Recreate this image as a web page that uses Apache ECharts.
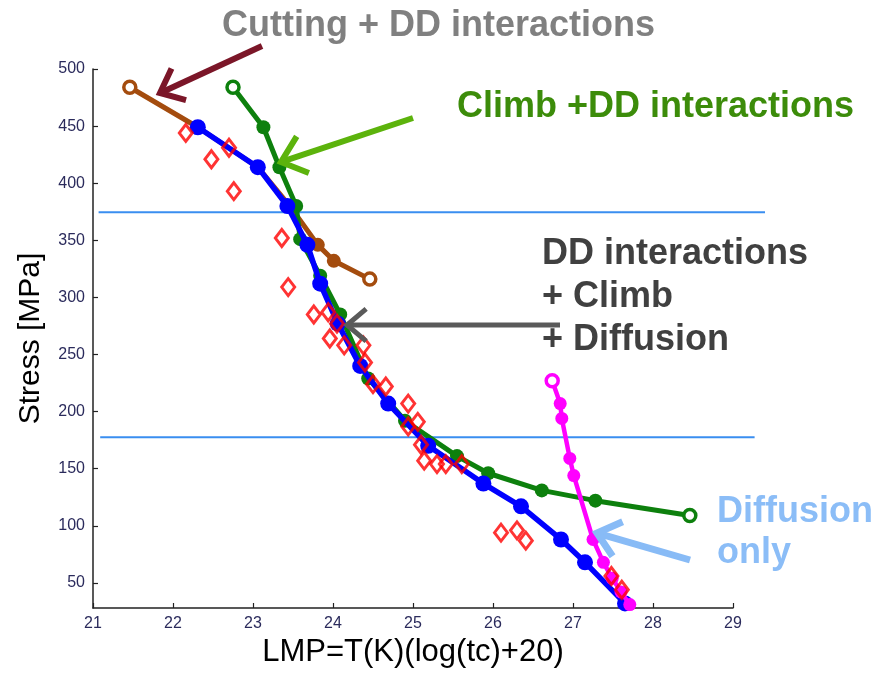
<!DOCTYPE html>
<html><head><meta charset="utf-8">
<script src="https://cdn.jsdelivr.net/npm/echarts@6/dist/echarts.min.js"></script>
<style>html,body{margin:0;padding:0;background:#fff}#c{width:878px;height:673px}</style>
</head><body><div id="c"></div>
<script>
// ---- data ----
const xTickValues = [21, 22, 23, 24, 25, 26, 27, 28, 29];
const yTickValues = [50, 100, 150, 200, 250, 300, 350, 400, 450, 500];

const cuttingX = [21.46, 22.31, 23.06, 23.46, 23.81, 24.01, 24.46];
const cuttingY = [484, 449, 414, 380, 346, 332, 316];

const climbX = [22.75, 23.13, 23.33, 23.54, 23.59, 23.84, 24.09, 24.44, 24.90, 25.55, 25.94, 26.61, 27.28, 28.46];
const climbY = [484, 449, 414, 380, 351, 319, 285, 229, 192, 161, 146, 131, 122, 109];

const allX = [22.31, 23.06, 23.43, 23.68, 23.84, 24.06, 24.34, 24.69, 25.19, 25.88, 26.35, 26.85, 27.15, 27.65];
const allY = [449, 414, 380, 346, 312, 277, 240, 207, 170, 137, 117, 88, 68, 32];

const diffX = [26.74, 26.84, 26.86, 26.96, 27.01, 27.25, 27.38, 27.49, 27.60, 27.71];
const diffY = [227, 207, 194, 159, 144, 88, 68, 54, 42, 31];

const expX = [22.16, 22.48, 22.70, 22.76, 23.36, 23.44, 23.76, 23.94, 24.05, 23.96, 24.14, 24.38, 24.40, 24.50,
              24.66, 24.94, 24.94, 25.06, 25.10, 25.14, 25.30, 25.41, 25.61, 26.10, 26.30, 26.41, 27.48, 27.61];
const expY = [444, 421, 431, 393, 352, 309, 285, 287, 277, 264, 258, 258, 243, 224,
              222, 207, 187, 191, 171, 157, 154, 154, 154, 94, 96, 87, 56, 44];

const refLineY = [374.5, 177.5];
const refLineX1 = [21.07, 21.09];
const refLineX2 = [29.4, 29.27];

const labels = {
  cutting: 'Cutting + DD interactions',
  climb: 'Climb +DD interactions',
  all: ['DD interactions', '+ Climb', '+ Diffusion'],
  diff: ['Diffusion', 'only'],
  xName: 'LMP=T(K)(log(tc)+20)',
  yName: 'Stress [MPa]'
};

// ---- build ----
const FONT = '"Liberation Sans", Arial, sans-serif';
function zip(xs, ys) { return xs.map((x, i) => [x, ys[i]]); }
function lineData(xs, ys, color, openIdx) {
  return zip(xs, ys).map((p, i) => openIdx.includes(i)
    ? { value: p, symbolSize: 12, itemStyle: { color: '#ffffff', borderColor: color, borderWidth: 3.5 } }
    : { value: p });
}
function lineSeries(name, xs, ys, color, width, size, openIdx, z) {
  return {
    name, type: 'line', data: lineData(xs, ys, color, openIdx),
    symbol: 'circle', symbolSize: size, showSymbol: true, z,
    lineStyle: { color, width }, itemStyle: { color },
    animation: false, clip: false
  };
}

const chart = echarts.init(document.getElementById('c'), null, { renderer: 'canvas' });
const axisLabelStyle = { color: '#2b2b5c', fontFamily: FONT, fontSize: 16 };
chart.setOption({
  animation: false,
  grid: { left: 93, right: 145, top: 69, bottom: 63, containLabel: false },
  xAxis: {
    type: 'value', min: 21, max: 29, interval: 1,
    name: labels.xName, nameLocation: 'middle', nameGap: 29,
    nameTextStyle: { color: '#000', fontFamily: FONT, fontSize: 31 },
    axisLine: { show: true, onZero: false, lineStyle: { color: '#222', width: 1.5 } },
    axisTick: { show: true, inside: true, length: 5, lineStyle: { color: '#222', width: 1.2 } },
    axisLabel: Object.assign({ margin: 8 }, axisLabelStyle),
    splitLine: { show: false }
  },
  yAxis: {
    type: 'value', min: 28, max: 500,
    name: labels.yName, nameLocation: 'middle', nameGap: 47, nameRotate: 90,
    nameTextStyle: { color: '#000', fontFamily: FONT, fontSize: 30 },
    axisLine: { show: true, onZero: false, lineStyle: { color: '#222', width: 1.5 } },
    axisTick: { show: true, inside: true, length: 5, customValues: yTickValues, lineStyle: { color: '#222', width: 1.2 } },
    axisLabel: Object.assign({ margin: 8, customValues: yTickValues }, axisLabelStyle),
    splitLine: { show: false }
  },
  series: [
    lineSeries('Cutting + DD', cuttingX, cuttingY, '#a44c0e', 5, 14, [0, cuttingX.length - 1], 2),
    lineSeries('Climb + DD', climbX, climbY, '#0d800d', 5, 14, [0, climbX.length - 1], 3),
    lineSeries('DD + Climb + Diffusion', allX, allY, '#0000ff', 5.5, 16, [], 4),
    lineSeries('Diffusion only', diffX, diffY, '#ff00ff', 4.5, 13, [0], 5),
    {
      name: 'Experiment', type: 'scatter', data: zip(expX, expY), z: 6,
      symbol: 'diamond', symbolSize: [13, 17],
      itemStyle: { color: 'rgba(0,0,0,0)', borderColor: '#ff0000', borderWidth: 3 },
      animation: false
    }
  ]
});

// ---- annotations ----
function arrow(tail, tip, color, width, headLen, ang) {
  const dx = tip[0] - tail[0], dy = tip[1] - tail[1];
  const L = Math.hypot(dx, dy), ux = dx / L, uy = dy / L;
  const a = ang * Math.PI / 180, c = Math.cos(a), s = Math.sin(a);
  const w1 = [tip[0] - headLen * (ux * c - uy * s), tip[1] - headLen * (uy * c + ux * s)];
  const w2 = [tip[0] - headLen * (ux * c + uy * s), tip[1] - headLen * (uy * c - ux * s)];
  return [
    { type: 'polyline', z: 100, shape: { points: [tail, [tip[0] - ux * 2, tip[1] - uy * 2]] }, style: { stroke: color, lineWidth: width, fill: null } },
    { type: 'polyline', z: 100, shape: { points: [w1, tip, w2] }, style: { stroke: color, lineWidth: width, fill: null, lineJoin: 'miter' } }
  ];
}
function txt(t, x, y, color) {
  return {
    type: 'text', x, y, z: 100,
    style: { text: t, fill: color, font: 'bold 36px ' + FONT, fontWeight: 'bold', fontSize: 36, fontFamily: FONT,
             align: 'left', verticalAlign: 'middle', textAlign: 'left', textVerticalAlign: 'middle' }
  };
}

const g = [];
refLineY.forEach((yv, i) => {
  const p1 = chart.convertToPixel({ gridIndex: 0 }, [refLineX1[i], yv]);
  const p2 = chart.convertToPixel({ gridIndex: 0 }, [refLineX2[i], yv]);
  g.push({ type: 'line', z: 1, shape: { x1: p1[0], y1: p1[1], x2: p2[0], y2: p2[1] }, style: { stroke: '#3a8ef0', lineWidth: 2 } });
});
g.push(...arrow([262, 46], [160, 93], '#7b1628', 6, 27, 40));
g.push(...arrow([413, 118], [281, 162], '#5cb30c', 6, 30, 40));
g.push(...arrow([560, 325], [347, 325], '#5a5a5a', 5, 25, 40));
g.push(...arrow([690, 560], [597, 533], '#88bbf6', 7, 28, 40));
g.push(txt(labels.cutting, 222, 26, '#808080'));
g.push(txt(labels.climb, 457, 107, '#3c8c0a'));
labels.all.forEach((t, i) => g.push(txt(t, 542, [254, 297, 340][i], '#404040')));
labels.diff.forEach((t, i) => g.push(txt(t, 717, [512, 553][i], '#8bbdf7')));
chart.setOption({ graphic: g });
</script>
</body></html>
